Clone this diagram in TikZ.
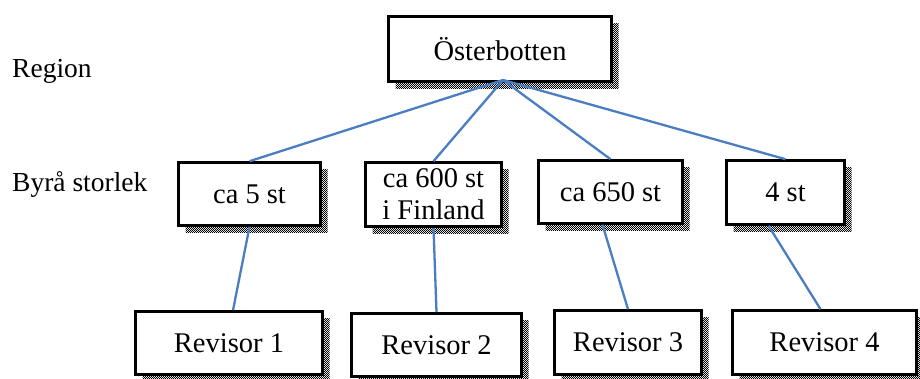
\documentclass[tikz,border=0pt]{standalone}
\usepackage{fontspec}
\setmainfont{Liberation Serif}
\usetikzlibrary{shadows,patterns,calc}
\pgfdeclarepatternformonly{shadowdots}{\pgfpointorigin}{\pgfpoint{2.4pt}{2.4pt}}{\pgfpoint{2.4pt}{2.4pt}}{%
  \pgfpathrectangle{\pgfpointorigin}{\pgfpoint{1.2pt}{1.2pt}}%
  \pgfpathrectangle{\pgfpoint{1.2pt}{1.2pt}}{\pgfpoint{1.2pt}{1.2pt}}%
  \pgfusepath{fill}}
\definecolor{linkblue}{RGB}{74,126,193}
\begin{document}
\begin{tikzpicture}[x=1pt,y=-1pt,
  box/.style={draw=black,line width=2.6pt,fill=white,rectangle,inner sep=0pt,
    font=\fontsize{28.5}{32}\selectfont,align=center,
    drop shadow={shadow xshift=7pt,shadow yshift=-7pt,opacity=1,pattern=shadowdots,pattern color=black}},
  lbl/.style={anchor=base west,inner sep=0pt,font=\fontsize{27.5}{31}\selectfont},
  link/.style={draw=linkblue,line width=2.3pt}]
\useasboundingbox (0,0) rectangle (920,378);
\fill[white] (0,0) rectangle (920,378);
\node[box,minimum width=223pt,minimum height=65pt] (top) at (500,49) {Österbotten};
\node[box,minimum width=142pt,minimum height=63pt] (m1) at (249.5,194) {ca 5 st};
\node[box,minimum width=136pt,minimum height=64pt] (m2) at (433.5,194.5) {ca 600 st\\i Finland};
\node[box,minimum width=144pt,minimum height=63pt] (m3) at (610.5,192) {ca 650 st};
\node[box,minimum width=118pt,minimum height=64pt] (m4) at (785.5,192.5) {4 st};
\node[box,minimum width=187pt,minimum height=63pt] (b1) at (229,343) {Revisor 1};
\node[box,minimum width=170pt,minimum height=63pt] (b2) at (436.5,345) {Revisor 2};
\node[box,minimum width=147pt,minimum height=64pt] (b3) at (628,342.5) {Revisor 3};
\node[box,minimum width=184pt,minimum height=64pt] (b4) at (824.5,342.5) {Revisor 4};
\node[lbl] (lregion) at (12,77) {Region};
\node[lbl] (lbyra) at (12,191) {Byrå storlek};
\coordinate (hub) at (503,80);
\draw[link] (hub) -- (m1.north);
\draw[link] (hub) -- (m2.north);
\draw[link] (hub) -- (m3.north);
\draw[link] (hub) -- (m4.north);
\draw[link] (m1.south) -- ([xshift=4pt]b1.north);
\draw[link] (m2.south) -- (b2.north);
\draw[link] ([xshift=-8pt]m3.south) -- (b3.north);
\draw[link] ([xshift=-17pt]m4.south) -- ([xshift=-4pt]b4.north);
\end{tikzpicture}
\end{document}
